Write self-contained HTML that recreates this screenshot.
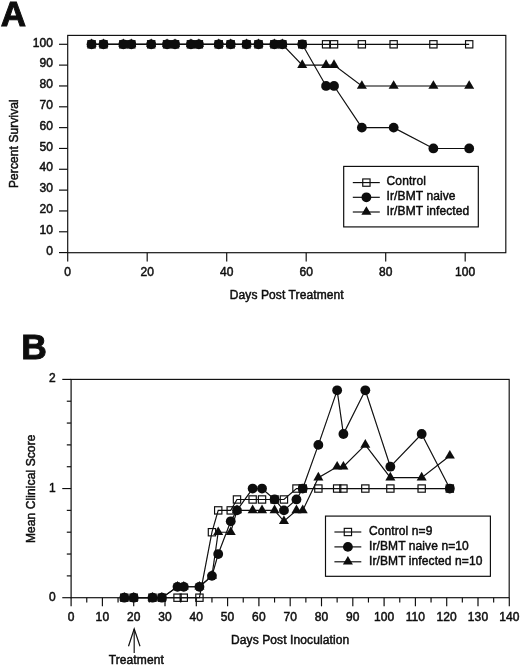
<!DOCTYPE html>
<html lang="en">
<head>
<meta charset="utf-8">
<title>Figure: survival and clinical score</title>
<style>
html,body{margin:0;padding:0;background:#fff;}
body{width:520px;height:666px;overflow:hidden;font-family:"Liberation Sans",Arial,sans-serif;}
svg{display:block;}
svg text{font-family:"Liberation Sans",Arial,sans-serif;}
</style>
</head>
<body>
<svg width="520" height="666" viewBox="0 0 520 666">
<defs><filter id="soft" x="0" y="0" width="520" height="666" filterUnits="userSpaceOnUse"><feGaussianBlur stdDeviation="0.35"/></filter></defs>
<rect x="0" y="0" width="520" height="666" fill="#ffffff"/>
<g filter="url(#soft)">
<!-- Panel A -->
<text x="0.70" y="26.30" font-size="35.0" font-weight="bold" text-anchor="start" fill="#0a0a0a" stroke="#0a0a0a" stroke-width="1.0" stroke-linejoin="miter" >A</text>
<rect x="67.7" y="35.4" width="438.10" height="217.30" fill="none" stroke="#0a0a0a" stroke-width="1.15"/>
<line x1="59.00" y1="252.60" x2="67.70" y2="252.60" stroke="#0a0a0a" stroke-width="1.15"/>
<text x="53.00" y="254.80" font-size="12" font-weight="normal" text-anchor="end" fill="#0a0a0a" stroke="#0a0a0a" stroke-width="0.45" stroke-linejoin="miter" letter-spacing="0.1" >0</text>
<line x1="59.00" y1="231.77" x2="67.70" y2="231.77" stroke="#0a0a0a" stroke-width="1.15"/>
<text x="53.00" y="233.97" font-size="12" font-weight="normal" text-anchor="end" fill="#0a0a0a" stroke="#0a0a0a" stroke-width="0.45" stroke-linejoin="miter" letter-spacing="0.1" >10</text>
<line x1="59.00" y1="210.94" x2="67.70" y2="210.94" stroke="#0a0a0a" stroke-width="1.15"/>
<text x="53.00" y="213.14" font-size="12" font-weight="normal" text-anchor="end" fill="#0a0a0a" stroke="#0a0a0a" stroke-width="0.45" stroke-linejoin="miter" letter-spacing="0.1" >20</text>
<line x1="59.00" y1="190.11" x2="67.70" y2="190.11" stroke="#0a0a0a" stroke-width="1.15"/>
<text x="53.00" y="192.31" font-size="12" font-weight="normal" text-anchor="end" fill="#0a0a0a" stroke="#0a0a0a" stroke-width="0.45" stroke-linejoin="miter" letter-spacing="0.1" >30</text>
<line x1="59.00" y1="169.28" x2="67.70" y2="169.28" stroke="#0a0a0a" stroke-width="1.15"/>
<text x="53.00" y="171.48" font-size="12" font-weight="normal" text-anchor="end" fill="#0a0a0a" stroke="#0a0a0a" stroke-width="0.45" stroke-linejoin="miter" letter-spacing="0.1" >40</text>
<line x1="59.00" y1="148.45" x2="67.70" y2="148.45" stroke="#0a0a0a" stroke-width="1.15"/>
<text x="53.00" y="150.65" font-size="12" font-weight="normal" text-anchor="end" fill="#0a0a0a" stroke="#0a0a0a" stroke-width="0.45" stroke-linejoin="miter" letter-spacing="0.1" >50</text>
<line x1="59.00" y1="127.62" x2="67.70" y2="127.62" stroke="#0a0a0a" stroke-width="1.15"/>
<text x="53.00" y="129.82" font-size="12" font-weight="normal" text-anchor="end" fill="#0a0a0a" stroke="#0a0a0a" stroke-width="0.45" stroke-linejoin="miter" letter-spacing="0.1" >60</text>
<line x1="59.00" y1="106.79" x2="67.70" y2="106.79" stroke="#0a0a0a" stroke-width="1.15"/>
<text x="53.00" y="108.99" font-size="12" font-weight="normal" text-anchor="end" fill="#0a0a0a" stroke="#0a0a0a" stroke-width="0.45" stroke-linejoin="miter" letter-spacing="0.1" >70</text>
<line x1="59.00" y1="85.96" x2="67.70" y2="85.96" stroke="#0a0a0a" stroke-width="1.15"/>
<text x="53.00" y="88.16" font-size="12" font-weight="normal" text-anchor="end" fill="#0a0a0a" stroke="#0a0a0a" stroke-width="0.45" stroke-linejoin="miter" letter-spacing="0.1" >80</text>
<line x1="59.00" y1="65.13" x2="67.70" y2="65.13" stroke="#0a0a0a" stroke-width="1.15"/>
<text x="53.00" y="67.33" font-size="12" font-weight="normal" text-anchor="end" fill="#0a0a0a" stroke="#0a0a0a" stroke-width="0.45" stroke-linejoin="miter" letter-spacing="0.1" >90</text>
<line x1="59.00" y1="44.30" x2="67.70" y2="44.30" stroke="#0a0a0a" stroke-width="1.15"/>
<text x="53.00" y="46.50" font-size="12" font-weight="normal" text-anchor="end" fill="#0a0a0a" stroke="#0a0a0a" stroke-width="0.45" stroke-linejoin="miter" letter-spacing="0.1" >100</text>
<line x1="67.70" y1="252.70" x2="67.70" y2="261.50" stroke="#0a0a0a" stroke-width="1.15"/>
<text x="67.70" y="276.20" font-size="12" font-weight="normal" text-anchor="middle" fill="#0a0a0a" stroke="#0a0a0a" stroke-width="0.45" stroke-linejoin="miter" letter-spacing="0.1" >0</text>
<line x1="147.20" y1="252.70" x2="147.20" y2="261.50" stroke="#0a0a0a" stroke-width="1.15"/>
<text x="147.20" y="276.20" font-size="12" font-weight="normal" text-anchor="middle" fill="#0a0a0a" stroke="#0a0a0a" stroke-width="0.45" stroke-linejoin="miter" letter-spacing="0.1" >20</text>
<line x1="226.70" y1="252.70" x2="226.70" y2="261.50" stroke="#0a0a0a" stroke-width="1.15"/>
<text x="226.70" y="276.20" font-size="12" font-weight="normal" text-anchor="middle" fill="#0a0a0a" stroke="#0a0a0a" stroke-width="0.45" stroke-linejoin="miter" letter-spacing="0.1" >40</text>
<line x1="306.20" y1="252.70" x2="306.20" y2="261.50" stroke="#0a0a0a" stroke-width="1.15"/>
<text x="306.20" y="276.20" font-size="12" font-weight="normal" text-anchor="middle" fill="#0a0a0a" stroke="#0a0a0a" stroke-width="0.45" stroke-linejoin="miter" letter-spacing="0.1" >60</text>
<line x1="385.70" y1="252.70" x2="385.70" y2="261.50" stroke="#0a0a0a" stroke-width="1.15"/>
<text x="385.70" y="276.20" font-size="12" font-weight="normal" text-anchor="middle" fill="#0a0a0a" stroke="#0a0a0a" stroke-width="0.45" stroke-linejoin="miter" letter-spacing="0.1" >80</text>
<line x1="465.20" y1="252.70" x2="465.20" y2="261.50" stroke="#0a0a0a" stroke-width="1.15"/>
<text x="465.20" y="276.20" font-size="12" font-weight="normal" text-anchor="middle" fill="#0a0a0a" stroke="#0a0a0a" stroke-width="0.45" stroke-linejoin="miter" letter-spacing="0.1" >100</text>
<text x="286.75" y="299.00" font-size="12" font-weight="normal" text-anchor="middle" fill="#0a0a0a" stroke="#0a0a0a" stroke-width="0.45" stroke-linejoin="miter" letter-spacing="0.1" >Days Post Treatment</text>
<text x="0.00" y="0.00" font-size="12" font-weight="normal" text-anchor="middle" fill="#0a0a0a" stroke="#0a0a0a" stroke-width="0.45" stroke-linejoin="miter" letter-spacing="0.1" transform="translate(17.9 143.6) rotate(-90)">Percent Survival</text>
<polyline points="91.55,44.30 103.47,44.30 123.35,44.30 131.30,44.30 151.18,44.30 167.07,44.30 175.03,44.30 190.93,44.30 198.88,44.30 218.75,44.30 230.68,44.30 246.57,44.30 258.50,44.30 274.40,44.30 282.35,44.30 302.23,44.30 326.07,44.30 334.02,44.30 361.85,44.30 393.65,44.30 433.40,44.30 469.18,44.30" fill="none" stroke="#0a0a0a" stroke-width="1.15"/>
<rect x="87.90" y="40.65" width="7.3" height="7.3" fill="none" stroke="#0a0a0a" stroke-width="1.15"/>
<rect x="99.82" y="40.65" width="7.3" height="7.3" fill="none" stroke="#0a0a0a" stroke-width="1.15"/>
<rect x="119.70" y="40.65" width="7.3" height="7.3" fill="none" stroke="#0a0a0a" stroke-width="1.15"/>
<rect x="127.65" y="40.65" width="7.3" height="7.3" fill="none" stroke="#0a0a0a" stroke-width="1.15"/>
<rect x="147.53" y="40.65" width="7.3" height="7.3" fill="none" stroke="#0a0a0a" stroke-width="1.15"/>
<rect x="163.42" y="40.65" width="7.3" height="7.3" fill="none" stroke="#0a0a0a" stroke-width="1.15"/>
<rect x="171.38" y="40.65" width="7.3" height="7.3" fill="none" stroke="#0a0a0a" stroke-width="1.15"/>
<rect x="187.28" y="40.65" width="7.3" height="7.3" fill="none" stroke="#0a0a0a" stroke-width="1.15"/>
<rect x="195.22" y="40.65" width="7.3" height="7.3" fill="none" stroke="#0a0a0a" stroke-width="1.15"/>
<rect x="215.10" y="40.65" width="7.3" height="7.3" fill="none" stroke="#0a0a0a" stroke-width="1.15"/>
<rect x="227.03" y="40.65" width="7.3" height="7.3" fill="none" stroke="#0a0a0a" stroke-width="1.15"/>
<rect x="242.92" y="40.65" width="7.3" height="7.3" fill="none" stroke="#0a0a0a" stroke-width="1.15"/>
<rect x="254.85" y="40.65" width="7.3" height="7.3" fill="none" stroke="#0a0a0a" stroke-width="1.15"/>
<rect x="270.75" y="40.65" width="7.3" height="7.3" fill="none" stroke="#0a0a0a" stroke-width="1.15"/>
<rect x="278.70" y="40.65" width="7.3" height="7.3" fill="none" stroke="#0a0a0a" stroke-width="1.15"/>
<rect x="298.58" y="40.65" width="7.3" height="7.3" fill="none" stroke="#0a0a0a" stroke-width="1.15"/>
<rect x="322.43" y="40.65" width="7.3" height="7.3" fill="none" stroke="#0a0a0a" stroke-width="1.15"/>
<rect x="330.38" y="40.65" width="7.3" height="7.3" fill="none" stroke="#0a0a0a" stroke-width="1.15"/>
<rect x="358.20" y="40.65" width="7.3" height="7.3" fill="none" stroke="#0a0a0a" stroke-width="1.15"/>
<rect x="390.00" y="40.65" width="7.3" height="7.3" fill="none" stroke="#0a0a0a" stroke-width="1.15"/>
<rect x="429.75" y="40.65" width="7.3" height="7.3" fill="none" stroke="#0a0a0a" stroke-width="1.15"/>
<rect x="465.53" y="40.65" width="7.3" height="7.3" fill="none" stroke="#0a0a0a" stroke-width="1.15"/>
<polyline points="91.55,44.30 103.47,44.30 123.35,44.30 131.30,44.30 151.18,44.30 167.07,44.30 175.03,44.30 190.93,44.30 198.88,44.30 218.75,44.30 230.68,44.30 246.57,44.30 258.50,44.30 274.40,44.30 282.35,44.30 302.23,65.13 326.07,65.13 334.02,65.13 361.85,85.96 393.65,85.96 433.40,85.96 469.18,85.96" fill="none" stroke="#0a0a0a" stroke-width="1.15"/>
<polygon points="91.55,38.50 96.55,47.10 86.55,47.10" fill="#0a0a0a"/>
<polygon points="103.47,38.50 108.47,47.10 98.47,47.10" fill="#0a0a0a"/>
<polygon points="123.35,38.50 128.35,47.10 118.35,47.10" fill="#0a0a0a"/>
<polygon points="131.30,38.50 136.30,47.10 126.30,47.10" fill="#0a0a0a"/>
<polygon points="151.18,38.50 156.18,47.10 146.18,47.10" fill="#0a0a0a"/>
<polygon points="167.07,38.50 172.07,47.10 162.07,47.10" fill="#0a0a0a"/>
<polygon points="175.03,38.50 180.03,47.10 170.03,47.10" fill="#0a0a0a"/>
<polygon points="190.93,38.50 195.93,47.10 185.93,47.10" fill="#0a0a0a"/>
<polygon points="198.88,38.50 203.88,47.10 193.88,47.10" fill="#0a0a0a"/>
<polygon points="218.75,38.50 223.75,47.10 213.75,47.10" fill="#0a0a0a"/>
<polygon points="230.68,38.50 235.68,47.10 225.68,47.10" fill="#0a0a0a"/>
<polygon points="246.57,38.50 251.57,47.10 241.57,47.10" fill="#0a0a0a"/>
<polygon points="258.50,38.50 263.50,47.10 253.50,47.10" fill="#0a0a0a"/>
<polygon points="274.40,38.50 279.40,47.10 269.40,47.10" fill="#0a0a0a"/>
<polygon points="282.35,38.50 287.35,47.10 277.35,47.10" fill="#0a0a0a"/>
<polygon points="302.23,59.33 307.23,67.93 297.23,67.93" fill="#0a0a0a"/>
<polygon points="326.07,59.33 331.07,67.93 321.07,67.93" fill="#0a0a0a"/>
<polygon points="334.02,59.33 339.02,67.93 329.02,67.93" fill="#0a0a0a"/>
<polygon points="361.85,80.16 366.85,88.76 356.85,88.76" fill="#0a0a0a"/>
<polygon points="393.65,80.16 398.65,88.76 388.65,88.76" fill="#0a0a0a"/>
<polygon points="433.40,80.16 438.40,88.76 428.40,88.76" fill="#0a0a0a"/>
<polygon points="469.18,80.16 474.18,88.76 464.18,88.76" fill="#0a0a0a"/>
<polyline points="91.55,44.30 103.47,44.30 123.35,44.30 131.30,44.30 151.18,44.30 167.07,44.30 175.03,44.30 190.93,44.30 198.88,44.30 218.75,44.30 230.68,44.30 246.57,44.30 258.50,44.30 274.40,44.30 282.35,44.30 302.23,44.30 326.07,85.96 334.02,85.96 361.85,127.62 393.65,127.62 433.40,148.45 469.18,148.45" fill="none" stroke="#0a0a0a" stroke-width="1.15"/>
<circle cx="91.55" cy="44.30" r="4.9" fill="#0a0a0a"/>
<circle cx="103.47" cy="44.30" r="4.9" fill="#0a0a0a"/>
<circle cx="123.35" cy="44.30" r="4.9" fill="#0a0a0a"/>
<circle cx="131.30" cy="44.30" r="4.9" fill="#0a0a0a"/>
<circle cx="151.18" cy="44.30" r="4.9" fill="#0a0a0a"/>
<circle cx="167.07" cy="44.30" r="4.9" fill="#0a0a0a"/>
<circle cx="175.03" cy="44.30" r="4.9" fill="#0a0a0a"/>
<circle cx="190.93" cy="44.30" r="4.9" fill="#0a0a0a"/>
<circle cx="198.88" cy="44.30" r="4.9" fill="#0a0a0a"/>
<circle cx="218.75" cy="44.30" r="4.9" fill="#0a0a0a"/>
<circle cx="230.68" cy="44.30" r="4.9" fill="#0a0a0a"/>
<circle cx="246.57" cy="44.30" r="4.9" fill="#0a0a0a"/>
<circle cx="258.50" cy="44.30" r="4.9" fill="#0a0a0a"/>
<circle cx="274.40" cy="44.30" r="4.9" fill="#0a0a0a"/>
<circle cx="282.35" cy="44.30" r="4.9" fill="#0a0a0a"/>
<circle cx="302.23" cy="44.30" r="4.9" fill="#0a0a0a"/>
<circle cx="326.07" cy="85.96" r="4.9" fill="#0a0a0a"/>
<circle cx="334.02" cy="85.96" r="4.9" fill="#0a0a0a"/>
<circle cx="361.85" cy="127.62" r="4.9" fill="#0a0a0a"/>
<circle cx="393.65" cy="127.62" r="4.9" fill="#0a0a0a"/>
<circle cx="433.40" cy="148.45" r="4.9" fill="#0a0a0a"/>
<circle cx="469.18" cy="148.45" r="4.9" fill="#0a0a0a"/>
<rect x="343.7" y="166.4" width="134.60" height="60.50" fill="#fff" stroke="#0a0a0a" stroke-width="1.15"/>
<line x1="352.80" y1="182.60" x2="379.80" y2="182.60" stroke="#0a0a0a" stroke-width="1.15"/>
<rect x="362.75" y="178.95" width="7.3" height="7.3" fill="none" stroke="#0a0a0a" stroke-width="1.15"/>
<text x="386.60" y="185.20" font-size="12" font-weight="normal" text-anchor="start" fill="#0a0a0a" stroke="#0a0a0a" stroke-width="0.45" stroke-linejoin="miter" letter-spacing="0.1" >Control</text>
<line x1="352.80" y1="197.30" x2="379.80" y2="197.30" stroke="#0a0a0a" stroke-width="1.15"/>
<circle cx="366.40" cy="197.30" r="4.9" fill="#0a0a0a"/>
<text x="386.60" y="199.90" font-size="12" font-weight="normal" text-anchor="start" fill="#0a0a0a" stroke="#0a0a0a" stroke-width="0.45" stroke-linejoin="miter" letter-spacing="0.1" >Ir/BMT naive</text>
<line x1="352.80" y1="212.00" x2="379.80" y2="212.00" stroke="#0a0a0a" stroke-width="1.15"/>
<polygon points="366.40,206.20 371.40,214.80 361.40,214.80" fill="#0a0a0a"/>
<text x="386.60" y="214.60" font-size="12" font-weight="normal" text-anchor="start" fill="#0a0a0a" stroke="#0a0a0a" stroke-width="0.45" stroke-linejoin="miter" letter-spacing="0.1" >Ir/BMT infected</text>
<!-- Panel B -->
<text x="21.20" y="359.30" font-size="35.4" font-weight="bold" text-anchor="start" fill="#0a0a0a" stroke="#0a0a0a" stroke-width="1.0" stroke-linejoin="miter" >B</text>
<rect x="71.1" y="379.4" width="438.10" height="218.30" fill="none" stroke="#0a0a0a" stroke-width="1.15"/>
<line x1="62.30" y1="597.70" x2="71.10" y2="597.70" stroke="#0a0a0a" stroke-width="1.15"/>
<text x="55.80" y="600.70" font-size="12" font-weight="normal" text-anchor="end" fill="#0a0a0a" stroke="#0a0a0a" stroke-width="0.45" stroke-linejoin="miter" letter-spacing="0.1" >0</text>
<line x1="66.80" y1="575.87" x2="71.10" y2="575.87" stroke="#0a0a0a" stroke-width="1.15"/>
<line x1="66.80" y1="554.04" x2="71.10" y2="554.04" stroke="#0a0a0a" stroke-width="1.15"/>
<line x1="66.80" y1="532.21" x2="71.10" y2="532.21" stroke="#0a0a0a" stroke-width="1.15"/>
<line x1="66.80" y1="510.38" x2="71.10" y2="510.38" stroke="#0a0a0a" stroke-width="1.15"/>
<line x1="62.30" y1="488.55" x2="71.10" y2="488.55" stroke="#0a0a0a" stroke-width="1.15"/>
<text x="55.80" y="491.55" font-size="12" font-weight="normal" text-anchor="end" fill="#0a0a0a" stroke="#0a0a0a" stroke-width="0.45" stroke-linejoin="miter" letter-spacing="0.1" >1</text>
<line x1="66.80" y1="466.72" x2="71.10" y2="466.72" stroke="#0a0a0a" stroke-width="1.15"/>
<line x1="66.80" y1="444.89" x2="71.10" y2="444.89" stroke="#0a0a0a" stroke-width="1.15"/>
<line x1="66.80" y1="423.06" x2="71.10" y2="423.06" stroke="#0a0a0a" stroke-width="1.15"/>
<line x1="66.80" y1="401.23" x2="71.10" y2="401.23" stroke="#0a0a0a" stroke-width="1.15"/>
<line x1="62.30" y1="379.40" x2="71.10" y2="379.40" stroke="#0a0a0a" stroke-width="1.15"/>
<text x="55.80" y="382.40" font-size="12" font-weight="normal" text-anchor="end" fill="#0a0a0a" stroke="#0a0a0a" stroke-width="0.45" stroke-linejoin="miter" letter-spacing="0.1" >2</text>
<line x1="71.10" y1="597.70" x2="71.10" y2="606.30" stroke="#0a0a0a" stroke-width="1.15"/>
<text x="71.10" y="621.00" font-size="12" font-weight="normal" text-anchor="middle" fill="#0a0a0a" stroke="#0a0a0a" stroke-width="0.45" stroke-linejoin="miter" letter-spacing="0.1" >0</text>
<line x1="86.75" y1="597.70" x2="86.75" y2="602.50" stroke="#0a0a0a" stroke-width="1.15"/>
<line x1="102.40" y1="597.70" x2="102.40" y2="606.30" stroke="#0a0a0a" stroke-width="1.15"/>
<text x="102.40" y="621.00" font-size="12" font-weight="normal" text-anchor="middle" fill="#0a0a0a" stroke="#0a0a0a" stroke-width="0.45" stroke-linejoin="miter" letter-spacing="0.1" >10</text>
<line x1="118.05" y1="597.70" x2="118.05" y2="602.50" stroke="#0a0a0a" stroke-width="1.15"/>
<line x1="133.70" y1="597.70" x2="133.70" y2="606.30" stroke="#0a0a0a" stroke-width="1.15"/>
<text x="133.70" y="621.00" font-size="12" font-weight="normal" text-anchor="middle" fill="#0a0a0a" stroke="#0a0a0a" stroke-width="0.45" stroke-linejoin="miter" letter-spacing="0.1" >20</text>
<line x1="149.35" y1="597.70" x2="149.35" y2="602.50" stroke="#0a0a0a" stroke-width="1.15"/>
<line x1="165.00" y1="597.70" x2="165.00" y2="606.30" stroke="#0a0a0a" stroke-width="1.15"/>
<text x="165.00" y="621.00" font-size="12" font-weight="normal" text-anchor="middle" fill="#0a0a0a" stroke="#0a0a0a" stroke-width="0.45" stroke-linejoin="miter" letter-spacing="0.1" >30</text>
<line x1="180.65" y1="597.70" x2="180.65" y2="602.50" stroke="#0a0a0a" stroke-width="1.15"/>
<line x1="196.30" y1="597.70" x2="196.30" y2="606.30" stroke="#0a0a0a" stroke-width="1.15"/>
<text x="196.30" y="621.00" font-size="12" font-weight="normal" text-anchor="middle" fill="#0a0a0a" stroke="#0a0a0a" stroke-width="0.45" stroke-linejoin="miter" letter-spacing="0.1" >40</text>
<line x1="211.95" y1="597.70" x2="211.95" y2="602.50" stroke="#0a0a0a" stroke-width="1.15"/>
<line x1="227.60" y1="597.70" x2="227.60" y2="606.30" stroke="#0a0a0a" stroke-width="1.15"/>
<text x="227.60" y="621.00" font-size="12" font-weight="normal" text-anchor="middle" fill="#0a0a0a" stroke="#0a0a0a" stroke-width="0.45" stroke-linejoin="miter" letter-spacing="0.1" >50</text>
<line x1="243.25" y1="597.70" x2="243.25" y2="602.50" stroke="#0a0a0a" stroke-width="1.15"/>
<line x1="258.90" y1="597.70" x2="258.90" y2="606.30" stroke="#0a0a0a" stroke-width="1.15"/>
<text x="258.90" y="621.00" font-size="12" font-weight="normal" text-anchor="middle" fill="#0a0a0a" stroke="#0a0a0a" stroke-width="0.45" stroke-linejoin="miter" letter-spacing="0.1" >60</text>
<line x1="274.55" y1="597.70" x2="274.55" y2="602.50" stroke="#0a0a0a" stroke-width="1.15"/>
<line x1="290.20" y1="597.70" x2="290.20" y2="606.30" stroke="#0a0a0a" stroke-width="1.15"/>
<text x="290.20" y="621.00" font-size="12" font-weight="normal" text-anchor="middle" fill="#0a0a0a" stroke="#0a0a0a" stroke-width="0.45" stroke-linejoin="miter" letter-spacing="0.1" >70</text>
<line x1="305.85" y1="597.70" x2="305.85" y2="602.50" stroke="#0a0a0a" stroke-width="1.15"/>
<line x1="321.50" y1="597.70" x2="321.50" y2="606.30" stroke="#0a0a0a" stroke-width="1.15"/>
<text x="321.50" y="621.00" font-size="12" font-weight="normal" text-anchor="middle" fill="#0a0a0a" stroke="#0a0a0a" stroke-width="0.45" stroke-linejoin="miter" letter-spacing="0.1" >80</text>
<line x1="337.15" y1="597.70" x2="337.15" y2="602.50" stroke="#0a0a0a" stroke-width="1.15"/>
<line x1="352.80" y1="597.70" x2="352.80" y2="606.30" stroke="#0a0a0a" stroke-width="1.15"/>
<text x="352.80" y="621.00" font-size="12" font-weight="normal" text-anchor="middle" fill="#0a0a0a" stroke="#0a0a0a" stroke-width="0.45" stroke-linejoin="miter" letter-spacing="0.1" >90</text>
<line x1="368.45" y1="597.70" x2="368.45" y2="602.50" stroke="#0a0a0a" stroke-width="1.15"/>
<line x1="384.10" y1="597.70" x2="384.10" y2="606.30" stroke="#0a0a0a" stroke-width="1.15"/>
<text x="384.10" y="621.00" font-size="12" font-weight="normal" text-anchor="middle" fill="#0a0a0a" stroke="#0a0a0a" stroke-width="0.45" stroke-linejoin="miter" letter-spacing="0.1" >100</text>
<line x1="399.75" y1="597.70" x2="399.75" y2="602.50" stroke="#0a0a0a" stroke-width="1.15"/>
<line x1="415.40" y1="597.70" x2="415.40" y2="606.30" stroke="#0a0a0a" stroke-width="1.15"/>
<text x="415.40" y="621.00" font-size="12" font-weight="normal" text-anchor="middle" fill="#0a0a0a" stroke="#0a0a0a" stroke-width="0.45" stroke-linejoin="miter" letter-spacing="0.1" >110</text>
<line x1="431.05" y1="597.70" x2="431.05" y2="602.50" stroke="#0a0a0a" stroke-width="1.15"/>
<line x1="446.70" y1="597.70" x2="446.70" y2="606.30" stroke="#0a0a0a" stroke-width="1.15"/>
<text x="446.70" y="621.00" font-size="12" font-weight="normal" text-anchor="middle" fill="#0a0a0a" stroke="#0a0a0a" stroke-width="0.45" stroke-linejoin="miter" letter-spacing="0.1" >120</text>
<line x1="462.35" y1="597.70" x2="462.35" y2="602.50" stroke="#0a0a0a" stroke-width="1.15"/>
<line x1="478.00" y1="597.70" x2="478.00" y2="606.30" stroke="#0a0a0a" stroke-width="1.15"/>
<text x="478.00" y="621.00" font-size="12" font-weight="normal" text-anchor="middle" fill="#0a0a0a" stroke="#0a0a0a" stroke-width="0.45" stroke-linejoin="miter" letter-spacing="0.1" >130</text>
<line x1="493.65" y1="597.70" x2="493.65" y2="602.50" stroke="#0a0a0a" stroke-width="1.15"/>
<line x1="509.30" y1="597.70" x2="509.30" y2="606.30" stroke="#0a0a0a" stroke-width="1.15"/>
<text x="509.30" y="621.00" font-size="12" font-weight="normal" text-anchor="middle" fill="#0a0a0a" stroke="#0a0a0a" stroke-width="0.45" stroke-linejoin="miter" letter-spacing="0.1" >140</text>
<text x="290.15" y="644.40" font-size="12" font-weight="normal" text-anchor="middle" fill="#0a0a0a" stroke="#0a0a0a" stroke-width="0.45" stroke-linejoin="miter" letter-spacing="0.1" >Days Post Inoculation</text>
<text x="0.00" y="0.00" font-size="12" font-weight="normal" text-anchor="middle" fill="#0a0a0a" stroke="#0a0a0a" stroke-width="0.45" stroke-linejoin="miter" letter-spacing="0.1" transform="translate(35.1 488.8) rotate(-90)">Mean Clinical Score</text>
<polyline points="124.31,597.70 133.70,597.70 152.48,597.70 161.87,597.70 177.52,597.70 183.78,597.70 199.43,597.70 211.95,532.21 218.21,510.38 230.73,510.38 236.99,499.47 252.64,499.47 262.03,499.47 274.55,499.47 283.94,499.47 296.46,488.55 302.72,488.55 318.37,488.55 337.15,488.55 343.41,488.55 365.32,488.55 390.36,488.55 421.66,488.55 449.83,488.55" fill="none" stroke="#0a0a0a" stroke-width="1.15"/>
<rect x="120.66" y="594.05" width="7.3" height="7.3" fill="none" stroke="#0a0a0a" stroke-width="1.15"/>
<rect x="130.05" y="594.05" width="7.3" height="7.3" fill="none" stroke="#0a0a0a" stroke-width="1.15"/>
<rect x="148.83" y="594.05" width="7.3" height="7.3" fill="none" stroke="#0a0a0a" stroke-width="1.15"/>
<rect x="158.22" y="594.05" width="7.3" height="7.3" fill="none" stroke="#0a0a0a" stroke-width="1.15"/>
<rect x="173.87" y="594.05" width="7.3" height="7.3" fill="none" stroke="#0a0a0a" stroke-width="1.15"/>
<rect x="180.13" y="594.05" width="7.3" height="7.3" fill="none" stroke="#0a0a0a" stroke-width="1.15"/>
<rect x="195.78" y="594.05" width="7.3" height="7.3" fill="none" stroke="#0a0a0a" stroke-width="1.15"/>
<rect x="208.30" y="528.56" width="7.3" height="7.3" fill="none" stroke="#0a0a0a" stroke-width="1.15"/>
<rect x="214.56" y="506.73" width="7.3" height="7.3" fill="none" stroke="#0a0a0a" stroke-width="1.15"/>
<rect x="227.08" y="506.73" width="7.3" height="7.3" fill="none" stroke="#0a0a0a" stroke-width="1.15"/>
<rect x="233.34" y="495.82" width="7.3" height="7.3" fill="none" stroke="#0a0a0a" stroke-width="1.15"/>
<rect x="248.99" y="495.82" width="7.3" height="7.3" fill="none" stroke="#0a0a0a" stroke-width="1.15"/>
<rect x="258.38" y="495.82" width="7.3" height="7.3" fill="none" stroke="#0a0a0a" stroke-width="1.15"/>
<rect x="270.90" y="495.82" width="7.3" height="7.3" fill="none" stroke="#0a0a0a" stroke-width="1.15"/>
<rect x="280.29" y="495.82" width="7.3" height="7.3" fill="none" stroke="#0a0a0a" stroke-width="1.15"/>
<rect x="292.81" y="484.90" width="7.3" height="7.3" fill="none" stroke="#0a0a0a" stroke-width="1.15"/>
<rect x="299.07" y="484.90" width="7.3" height="7.3" fill="none" stroke="#0a0a0a" stroke-width="1.15"/>
<rect x="314.72" y="484.90" width="7.3" height="7.3" fill="none" stroke="#0a0a0a" stroke-width="1.15"/>
<rect x="333.50" y="484.90" width="7.3" height="7.3" fill="none" stroke="#0a0a0a" stroke-width="1.15"/>
<rect x="339.76" y="484.90" width="7.3" height="7.3" fill="none" stroke="#0a0a0a" stroke-width="1.15"/>
<rect x="361.67" y="484.90" width="7.3" height="7.3" fill="none" stroke="#0a0a0a" stroke-width="1.15"/>
<rect x="386.71" y="484.90" width="7.3" height="7.3" fill="none" stroke="#0a0a0a" stroke-width="1.15"/>
<rect x="418.01" y="484.90" width="7.3" height="7.3" fill="none" stroke="#0a0a0a" stroke-width="1.15"/>
<rect x="446.18" y="484.90" width="7.3" height="7.3" fill="none" stroke="#0a0a0a" stroke-width="1.15"/>
<polyline points="124.31,597.70 133.70,597.70 152.48,597.70 161.87,597.70 177.52,586.79 183.78,586.79 199.43,586.79 211.95,575.87 218.21,532.21 230.73,532.21 236.99,510.38 252.64,510.38 262.03,510.38 274.55,510.38 283.94,521.30 296.46,510.38 302.72,510.38 318.37,477.64 337.15,466.72 343.41,466.72 365.32,444.89 390.36,477.64 421.66,477.64 449.83,455.81" fill="none" stroke="#0a0a0a" stroke-width="1.15"/>
<polygon points="124.31,591.90 129.31,600.50 119.31,600.50" fill="#0a0a0a"/>
<polygon points="133.70,591.90 138.70,600.50 128.70,600.50" fill="#0a0a0a"/>
<polygon points="152.48,591.90 157.48,600.50 147.48,600.50" fill="#0a0a0a"/>
<polygon points="161.87,591.90 166.87,600.50 156.87,600.50" fill="#0a0a0a"/>
<polygon points="177.52,580.99 182.52,589.59 172.52,589.59" fill="#0a0a0a"/>
<polygon points="183.78,580.99 188.78,589.59 178.78,589.59" fill="#0a0a0a"/>
<polygon points="199.43,580.99 204.43,589.59 194.43,589.59" fill="#0a0a0a"/>
<polygon points="211.95,570.07 216.95,578.67 206.95,578.67" fill="#0a0a0a"/>
<polygon points="218.21,526.41 223.21,535.01 213.21,535.01" fill="#0a0a0a"/>
<polygon points="230.73,526.41 235.73,535.01 225.73,535.01" fill="#0a0a0a"/>
<polygon points="236.99,504.58 241.99,513.18 231.99,513.18" fill="#0a0a0a"/>
<polygon points="252.64,504.58 257.64,513.18 247.64,513.18" fill="#0a0a0a"/>
<polygon points="262.03,504.58 267.03,513.18 257.03,513.18" fill="#0a0a0a"/>
<polygon points="274.55,504.58 279.55,513.18 269.55,513.18" fill="#0a0a0a"/>
<polygon points="283.94,515.50 288.94,524.10 278.94,524.10" fill="#0a0a0a"/>
<polygon points="296.46,504.58 301.46,513.18 291.46,513.18" fill="#0a0a0a"/>
<polygon points="302.72,504.58 307.72,513.18 297.72,513.18" fill="#0a0a0a"/>
<polygon points="318.37,471.84 323.37,480.44 313.37,480.44" fill="#0a0a0a"/>
<polygon points="337.15,460.92 342.15,469.52 332.15,469.52" fill="#0a0a0a"/>
<polygon points="343.41,460.92 348.41,469.52 338.41,469.52" fill="#0a0a0a"/>
<polygon points="365.32,439.09 370.32,447.69 360.32,447.69" fill="#0a0a0a"/>
<polygon points="390.36,471.84 395.36,480.44 385.36,480.44" fill="#0a0a0a"/>
<polygon points="421.66,471.84 426.66,480.44 416.66,480.44" fill="#0a0a0a"/>
<polygon points="449.83,450.01 454.83,458.61 444.83,458.61" fill="#0a0a0a"/>
<polyline points="124.31,597.70 133.70,597.70 152.48,597.70 161.87,597.70 177.52,586.79 183.78,586.79 199.43,586.79 211.95,575.87 218.21,554.04 230.73,521.30 236.99,510.38 252.64,488.55 262.03,488.55 274.55,499.47 283.94,510.38 296.46,499.47 302.72,488.55 318.37,444.89 337.15,390.32 343.41,433.98 365.32,390.32 390.36,466.72 421.66,433.98 449.83,488.55" fill="none" stroke="#0a0a0a" stroke-width="1.15"/>
<circle cx="124.31" cy="597.70" r="4.9" fill="#0a0a0a"/>
<circle cx="133.70" cy="597.70" r="4.9" fill="#0a0a0a"/>
<circle cx="152.48" cy="597.70" r="4.9" fill="#0a0a0a"/>
<circle cx="161.87" cy="597.70" r="4.9" fill="#0a0a0a"/>
<circle cx="177.52" cy="586.79" r="4.9" fill="#0a0a0a"/>
<circle cx="183.78" cy="586.79" r="4.9" fill="#0a0a0a"/>
<circle cx="199.43" cy="586.79" r="4.9" fill="#0a0a0a"/>
<circle cx="211.95" cy="575.87" r="4.9" fill="#0a0a0a"/>
<circle cx="218.21" cy="554.04" r="4.9" fill="#0a0a0a"/>
<circle cx="230.73" cy="521.30" r="4.9" fill="#0a0a0a"/>
<circle cx="236.99" cy="510.38" r="4.9" fill="#0a0a0a"/>
<circle cx="252.64" cy="488.55" r="4.9" fill="#0a0a0a"/>
<circle cx="262.03" cy="488.55" r="4.9" fill="#0a0a0a"/>
<circle cx="274.55" cy="499.47" r="4.9" fill="#0a0a0a"/>
<circle cx="283.94" cy="510.38" r="4.9" fill="#0a0a0a"/>
<circle cx="296.46" cy="499.47" r="4.9" fill="#0a0a0a"/>
<circle cx="302.72" cy="488.55" r="4.9" fill="#0a0a0a"/>
<circle cx="318.37" cy="444.89" r="4.9" fill="#0a0a0a"/>
<circle cx="337.15" cy="390.32" r="4.9" fill="#0a0a0a"/>
<circle cx="343.41" cy="433.98" r="4.9" fill="#0a0a0a"/>
<circle cx="365.32" cy="390.32" r="4.9" fill="#0a0a0a"/>
<circle cx="390.36" cy="466.72" r="4.9" fill="#0a0a0a"/>
<circle cx="421.66" cy="433.98" r="4.9" fill="#0a0a0a"/>
<circle cx="449.83" cy="488.55" r="4.9" fill="#0a0a0a"/>
<rect x="325.5" y="516.1" width="164.90" height="60.20" fill="#fff" stroke="#0a0a0a" stroke-width="1.15"/>
<line x1="334.40" y1="532.00" x2="361.30" y2="532.00" stroke="#0a0a0a" stroke-width="1.15"/>
<rect x="344.25" y="528.35" width="7.3" height="7.3" fill="none" stroke="#0a0a0a" stroke-width="1.15"/>
<text x="369.00" y="535.00" font-size="12" font-weight="normal" text-anchor="start" fill="#0a0a0a" stroke="#0a0a0a" stroke-width="0.45" stroke-linejoin="miter" letter-spacing="0.1" >Control n=9</text>
<line x1="334.40" y1="546.90" x2="361.30" y2="546.90" stroke="#0a0a0a" stroke-width="1.15"/>
<circle cx="347.90" cy="546.90" r="4.9" fill="#0a0a0a"/>
<text x="369.00" y="549.90" font-size="12" font-weight="normal" text-anchor="start" fill="#0a0a0a" stroke="#0a0a0a" stroke-width="0.45" stroke-linejoin="miter" letter-spacing="0.1" >Ir/BMT naive n=10</text>
<line x1="334.40" y1="561.80" x2="361.30" y2="561.80" stroke="#0a0a0a" stroke-width="1.15"/>
<polygon points="347.90,556.00 352.90,564.60 342.90,564.60" fill="#0a0a0a"/>
<text x="369.00" y="564.80" font-size="12" font-weight="normal" text-anchor="start" fill="#0a0a0a" stroke="#0a0a0a" stroke-width="0.45" stroke-linejoin="miter" letter-spacing="0.1" >Ir/BMT infected n=10</text>
<line x1="134.20" y1="629.00" x2="134.20" y2="652.90" stroke="#0a0a0a" stroke-width="1.15"/>
<polyline points="128.50,646.20 134.20,628.80 140.00,646.20" fill="none" stroke="#0a0a0a" stroke-width="1.15"/>
<text x="136.30" y="664.40" font-size="12" font-weight="normal" text-anchor="middle" fill="#0a0a0a" stroke="#0a0a0a" stroke-width="0.45" stroke-linejoin="miter" letter-spacing="0.1" >Treatment</text>
</g>
</svg>
</body>
</html>
